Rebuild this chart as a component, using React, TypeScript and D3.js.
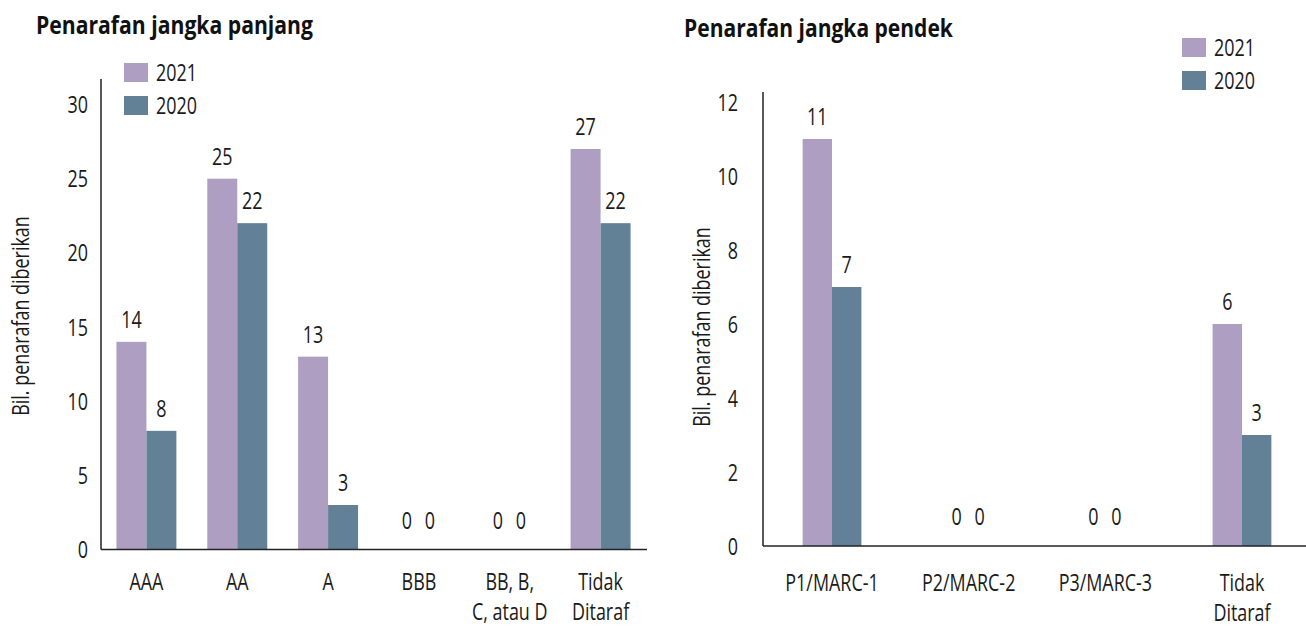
import * as d3 from 'd3'
import { useEffect, useRef } from 'react';

// data
const years = ["2021", "2020"];

const longCats = ["AAA", "AA", "A", "BBB", "BB, B,\nC, atau D", "Tidak\nDitaraf"];
const long2021 = [14, 25, 13, 0, 0, 27];
const long2020 = [8, 22, 3, 0, 0, 22];
const longTicks = [0, 5, 10, 15, 20, 25, 30];

const shortCats = ["P1/MARC-1", "P2/MARC-2", "P3/MARC-3", "Tidak\nDitaraf"];
const short2021 = [11, 0, 0, 6];
const short2020 = [7, 0, 0, 3];
const shortTicks = [0, 2, 4, 6, 8, 10, 12];

const colors = ["#ae9fc2", "#638196"];
const FONT = "'Open Sans', 'Noto Sans', sans-serif";
const INK = "#1a1a1a";
const FS = 24;

// the reference font is a narrow one; squeeze an installed font to fit
let SX = 0.75;

function label(parent, str, x, y, anchor = "start", size = FS, sx = SX) {
    const g = parent.append("g").attr("transform", `translate(${x},${y}) scale(${sx},1)`);
    const t = g.append("text")
        .attr("text-anchor", anchor)
        .attr("font-family", FONT).attr("font-size", size).attr("fill", INK);
    return t.text(str);
}

function drawPanel(svg, opt) {
    const g = svg.append("g");
    const x = d3.scaleBand().domain(opt.cats).range(opt.xRange)
        .paddingInner(opt.padIn).paddingOuter(opt.padOut);
    const xs = d3.scaleBand().domain(years).range([0, x.bandwidth()]);
    const y = d3.scaleLinear().domain([0, opt.max]).range(opt.yRange);

    // title, squeezed to the width it has in the reference
    const tt = label(g, opt.title, opt.titlePos[0], opt.titlePos[1], "start", 25, 1)
        .attr("font-weight", "bold").attr("fill", "#111");
    const tw = tt.node().getComputedTextLength();
    d3.select(tt.node().parentNode)
        .attr("transform", `translate(${opt.titlePos[0]},${opt.titlePos[1]}) scale(${opt.titleW / tw},1)`);

    // bars
    opt.cats.forEach((c, i) => {
        [opt.s2021[i], opt.s2020[i]].forEach((v, k) => {
            const bx = x(c) + xs(years[k]);
            g.append("rect")
                .attr("x", bx).attr("y", y(v))
                .attr("width", xs.bandwidth()).attr("height", y(0) - y(v))
                .attr("fill", colors[k]);
            // value labels (zeros sit closer together, a little higher)
            const lx = v === 0 ? x(c) + x.bandwidth() / 2 + (k === 0 ? -12 : 11) : bx + xs.bandwidth() / 2;
            const ly = v === 0 ? y(0) - 21 : y(v) - 14;
            label(g, v, lx, ly, "middle");
        });
    });

    // axis lines
    g.append("line").attr("x1", opt.xRange[0]).attr("x2", opt.xRange[0])
        .attr("y1", opt.axisTop).attr("y2", y(0))
        .attr("stroke", "#222").attr("stroke-width", 1.5);
    g.append("line").attr("x1", opt.xRange[0]).attr("x2", opt.baseEnd)
        .attr("y1", y(0)).attr("y2", y(0))
        .attr("stroke", "#222").attr("stroke-width", 1.5);

    // y tick labels
    opt.ticks.forEach(t => {
        label(g, t, opt.tickX, y(t), "end").attr("dy", "0.36em");
    });

    // y axis title
    const yt = g.append("g").attr("transform", `translate(${opt.yTitle[0]},${opt.yTitle[1]}) rotate(-90)`);
    label(yt, "Bil. penarafan diberikan", 0, 0, "middle");

    // category labels, one text per line
    opt.cats.forEach(c => {
        c.split("\n").forEach((ln, i) => {
            label(g, ln, x(c) + x.bandwidth() / 2, opt.catY + i * opt.lineGap, "middle");
        });
    });

    // legend
    const lg = g.append("g").attr("transform", `translate(${opt.legend[0]},${opt.legend[1]})`);
    years.forEach((yr, k) => {
        lg.append("rect").attr("x", 0).attr("y", k * 33).attr("width", 24).attr("height", 19).attr("fill", colors[k]);
        label(lg, yr, 32, k * 33 + 18);
    });
}

function App() {
    const ref = useRef(null);

    useEffect(() => {
        document.body.style.margin = "0";
        const svg = d3.select(ref.current);
        svg.selectAll("*").remove();

        // measure "2021" to find the horizontal squeeze (41px wide in the reference)
        const probe = svg.append("text").attr("font-family", FONT).attr("font-size", FS).text("2021");
        SX = 41 / probe.node().getComputedTextLength();
        probe.remove();

        drawPanel(svg, {
            title: "Penarafan jangka panjang", titlePos: [36, 34], titleW: 277,
            cats: longCats, s2021: long2021, s2020: long2020, ticks: longTicks, max: 30,
            xRange: [101, 646], padIn: 0.34, padOut: 0.17, baseEnd: 647,
            yRange: [549.5, 104.5], axisTop: 79, tickX: 88,
            yTitle: [29, 316], catY: 590, lineGap: 30, legend: [124, 63],
        });
        drawPanel(svg, {
            title: "Penarafan jangka pendek", titlePos: [684, 37], titleW: 269,
            cats: shortCats, s2021: short2021, s2020: short2020, ticks: shortTicks, max: 12,
            xRange: [763, 1311], padIn: 0.57, padOut: 0.29, baseEnd: 1306,
            yRange: [546, 102], axisTop: 92, tickX: 738,
            yTitle: [710, 327], catY: 591, lineGap: 30, legend: [1182, 38],
        });
    }, []);

    return (
        <svg ref={ref} width="1306" height="627" style={{ display: "block", background: "#fff" }}>
        </svg>
    );
}

export default App;
